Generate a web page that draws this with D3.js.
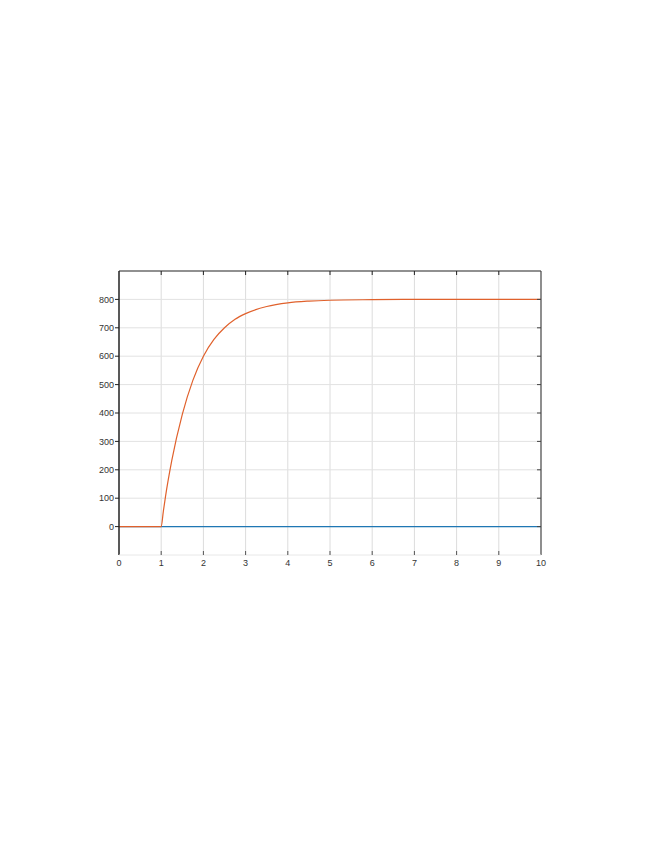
<!DOCTYPE html>
<html>
<head>
<meta charset="utf-8">
<script src="https://cdn.jsdelivr.net/npm/d3@7"></script>
<style>
  body { margin: 0; background: #fff; }
  text { font-family: "Liberation Sans", Arial, sans-serif; }
</style>
</head>
<body>
<div id="chart"></div>
<script>
// data
var timeValues = [0, 1, 1.05, 1.1, 1.25, 1.5, 1.75, 2, 2.25, 2.5, 2.75, 3, 3.5, 4, 4.5, 5, 6, 7, 8, 9, 10];
var responseValues = [0, 0, 53, 104, 232, 395, 515, 600, 659, 700, 730, 750, 775, 788, 794, 797, 799, 800, 800, 800, 800];
var inputTimes = [0, 10];
var inputValues = [0, 0];
var xTicks = [0, 1, 2, 3, 4, 5, 6, 7, 8, 9, 10];
var yTicks = [0, 100, 200, 300, 400, 500, 600, 700, 800];

var W = 655, H = 848;
var margin = {left: 119, right: 114, top: 271, bottom: 293};
var width = W - margin.left - margin.right,
    height = H - margin.top - margin.bottom;

var svg = d3.select("#chart").append("svg")
    .attr("width", W)
    .attr("height", H);

var g = svg.append("g")
    .attr("transform", `translate(${margin.left}, ${margin.top})`);

var x = d3.scaleLinear().domain([0, 10]).range([0, width]);
var y = d3.scaleLinear().domain([-100, 900]).range([height, 0]);

// grid
g.selectAll(".vgrid").data(xTicks.slice(1, -1)).enter().append("line")
    .attr("x1", d => x(d)).attr("x2", d => x(d))
    .attr("y1", 0).attr("y2", height)
    .attr("stroke", "#dcdcdc").attr("stroke-width", 1);
g.selectAll(".hgrid").data(yTicks).enter().append("line")
    .attr("x1", 0).attr("x2", width)
    .attr("y1", d => y(d)).attr("y2", d => y(d))
    .attr("stroke", "#e2e2e2").attr("stroke-width", 1);

// lines
var line = d3.line()
    .curve(d3.curveMonotoneX)
    .x(d => x(d[0]))
    .y(d => y(d[1]));

g.append("path")
    .datum(d3.zip(inputTimes, inputValues))
    .attr("fill", "none")
    .attr("stroke", "#1f77b4")
    .attr("stroke-width", 1.2)
    .attr("d", line);

g.append("path")
    .datum(d3.zip(timeValues, responseValues))
    .attr("fill", "none")
    .attr("stroke", "#e0612c")
    .attr("stroke-width", 1.2)
    .attr("d", line);

// box
g.append("line").attr("x1", 0).attr("x2", width).attr("y1", 0).attr("y2", 0)
    .attr("stroke", "#222").attr("stroke-width", 1.2);
g.append("line").attr("x1", 0).attr("x2", 0).attr("y1", 0).attr("y2", height)
    .attr("stroke", "#222").attr("stroke-width", 1.5);
g.append("line").attr("x1", width).attr("x2", width).attr("y1", 0).attr("y2", height)
    .attr("stroke", "#444").attr("stroke-width", 1.2);
g.append("line").attr("x1", 0).attr("x2", width).attr("y1", height).attr("y2", height)
    .attr("stroke", "#e8e8e8").attr("stroke-width", 1);

// ticks
g.selectAll(".ttick").data(xTicks.slice(1, -1)).enter().append("line")
    .attr("x1", d => x(d)).attr("x2", d => x(d))
    .attr("y1", 0).attr("y2", 4)
    .attr("stroke", "#222");
g.selectAll(".btick").data(xTicks.slice(1, -1)).enter().append("line")
    .attr("x1", d => x(d)).attr("x2", d => x(d))
    .attr("y1", height - 4).attr("y2", height)
    .attr("stroke", "#555");
g.selectAll(".ltick").data(yTicks).enter().append("line")
    .attr("x1", -4).attr("x2", 0)
    .attr("y1", d => y(d)).attr("y2", d => y(d))
    .attr("stroke", "#222");
g.selectAll(".rtick").data(yTicks).enter().append("line")
    .attr("x1", width - 4).attr("x2", width)
    .attr("y1", d => y(d)).attr("y2", d => y(d))
    .attr("stroke", "#444");

// labels
g.selectAll(".xlab").data(xTicks).enter().append("text")
    .attr("x", d => x(d))
    .attr("y", height + 11)
    .attr("text-anchor", "middle")
    .attr("font-size", "9px")
    .attr("fill", "#333")
    .text(d => d);
g.selectAll(".ylab").data(yTicks).enter().append("text")
    .attr("x", -5)
    .attr("y", d => y(d))
    .attr("dy", "0.35em")
    .attr("text-anchor", "end")
    .attr("font-size", "9px")
    .attr("fill", "#333")
    .text(d => d);
</script>
</body>
</html>
